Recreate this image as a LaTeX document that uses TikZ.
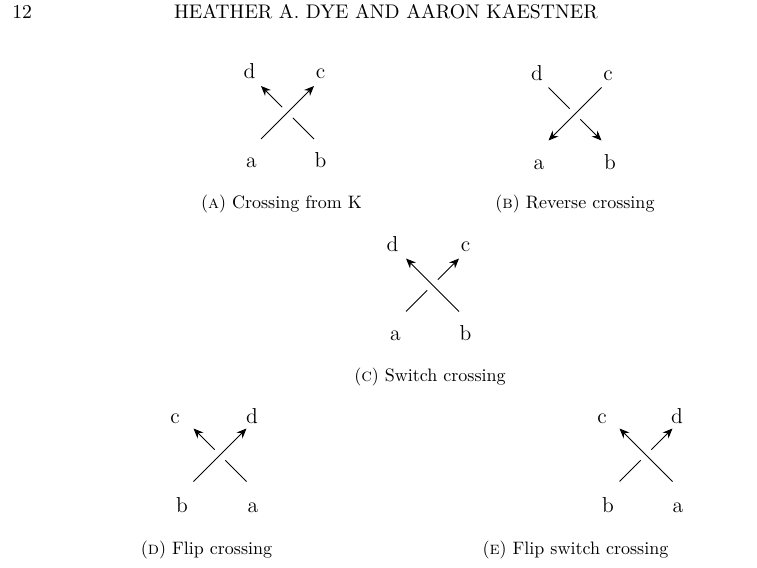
\documentclass[tikz,border=0pt]{standalone}
\usepackage{amsmath}
\usetikzlibrary{arrows.meta}

\begin{document}
\begin{tikzpicture}[
  x=0.5556pt,y=-0.5556pt,
  every node/.style={inner sep=0pt,anchor=base},
  strand/.style={line width=0.5pt},
  arrow/.style={strand,-{Stealth[length=5.5pt,width=4.6pt]}},
  gapin/.style={shorten >=4.2pt},
  gapout/.style={shorten <=4.2pt},
  lbl/.style={font=\large},
  capt/.style={font=\normalsize},
  head/.style={font=\fontsize{10.95}{12}\selectfont}
]
\useasboundingbox (0,0) rectangle (757,567);
% running head
\node[head,anchor=base west] (pageno) at (12,18) {12};
\node[head] (authors) at (386,18) {HEATHER A. DYE AND AARON KAESTNER};

% (a) crossing from K
\begin{scope}[shift={(287.5,112.5)}]
\coordinate (A-x) at (0,0);
\coordinate (A-nw) at (-26.5,-26.5);
\coordinate (A-ne) at (26.5,-26.5);
\coordinate (A-sw) at (-26.5,26.5);
\coordinate (A-se) at (26.5,26.5);
\node[lbl] (A-d) at (-38,-34) {d};
\node[lbl] (A-c) at (33,-34) {c};
\node[lbl] (A-a) at (-36,55) {a};
\node[lbl] (A-b) at (33,55) {b};
\draw[arrow] (A-sw) -- (A-ne);
\draw[strand,gapin] (A-se) -- (A-x);
\draw[arrow,gapout] (A-x) -- (A-nw);
\end{scope}
\node[capt] (A-cap) at (281.5,208) {(\textsc{a}) Crossing from K};

% (b) reverse crossing
\begin{scope}[shift={(575,114)}]
\coordinate (B-x) at (0,0);
\coordinate (B-nw) at (-26.5,-26.5);
\coordinate (B-ne) at (26.5,-26.5);
\coordinate (B-sw) at (-26.5,26.5);
\coordinate (B-se) at (26.5,26.5);
\node[lbl] (B-d) at (-38,-34) {d};
\node[lbl] (B-c) at (33,-34) {c};
\node[lbl] (B-a) at (-36,55) {a};
\node[lbl] (B-b) at (35,55) {b};
\draw[arrow] (B-ne) -- (B-sw);
\draw[strand,gapin] (B-nw) -- (B-x);
\draw[arrow,gapout] (B-x) -- (B-se);
\end{scope}
\node[capt] (B-cap) at (575,208) {(\textsc{b}) Reverse crossing};

% (c) switch crossing
\begin{scope}[shift={(432.5,285)}]
\coordinate (C-x) at (0,0);
\coordinate (C-nw) at (-26.5,-26.5);
\coordinate (C-ne) at (26.5,-26.5);
\coordinate (C-sw) at (-26.5,26.5);
\coordinate (C-se) at (26.5,26.5);
\node[lbl] (C-d) at (-40,-34) {d};
\node[lbl] (C-c) at (33,-34) {c};
\node[lbl] (C-a) at (-37,55) {a};
\node[lbl] (C-b) at (33,55) {b};
\draw[arrow] (C-se) -- (C-nw);
\draw[strand,gapin] (C-sw) -- (C-x);
\draw[arrow,gapout] (C-x) -- (C-ne);
\end{scope}
\node[capt] (C-cap) at (430,381) {(\textsc{c}) Switch crossing};

% (d) flip crossing
\begin{scope}[shift={(220,455)}]
\coordinate (D-x) at (0,0);
\coordinate (D-nw) at (-26.5,-26.5);
\coordinate (D-ne) at (26.5,-26.5);
\coordinate (D-sw) at (-26.5,26.5);
\coordinate (D-se) at (26.5,26.5);
\node[lbl] (D-c) at (-45,-32) {c};
\node[lbl] (D-d) at (32,-32) {d};
\node[lbl] (D-b) at (-38,57) {b};
\node[lbl] (D-a) at (33,57) {a};
\draw[arrow] (D-sw) -- (D-ne);
\draw[strand,gapin] (D-se) -- (D-x);
\draw[arrow,gapout] (D-x) -- (D-nw);
\end{scope}
\node[capt] (D-cap) at (206.5,554) {(\textsc{d}) Flip crossing};

% (e) flip switch crossing
\begin{scope}[shift={(646,455)}]
\coordinate (E-x) at (0,0);
\coordinate (E-nw) at (-26.5,-26.5);
\coordinate (E-ne) at (26.5,-26.5);
\coordinate (E-sw) at (-26.5,26.5);
\coordinate (E-se) at (26.5,26.5);
\node[lbl] (E-c) at (-44,-32) {c};
\node[lbl] (E-d) at (31,-32) {d};
\node[lbl] (E-b) at (-38,57) {b};
\node[lbl] (E-a) at (32,57) {a};
\draw[arrow] (E-se) -- (E-nw);
\draw[strand,gapin] (E-sw) -- (E-x);
\draw[arrow,gapout] (E-x) -- (E-ne);
\end{scope}
\node[capt] (E-cap) at (575.5,554) {(\textsc{e}) Flip switch crossing};
\end{tikzpicture}
\end{document}
